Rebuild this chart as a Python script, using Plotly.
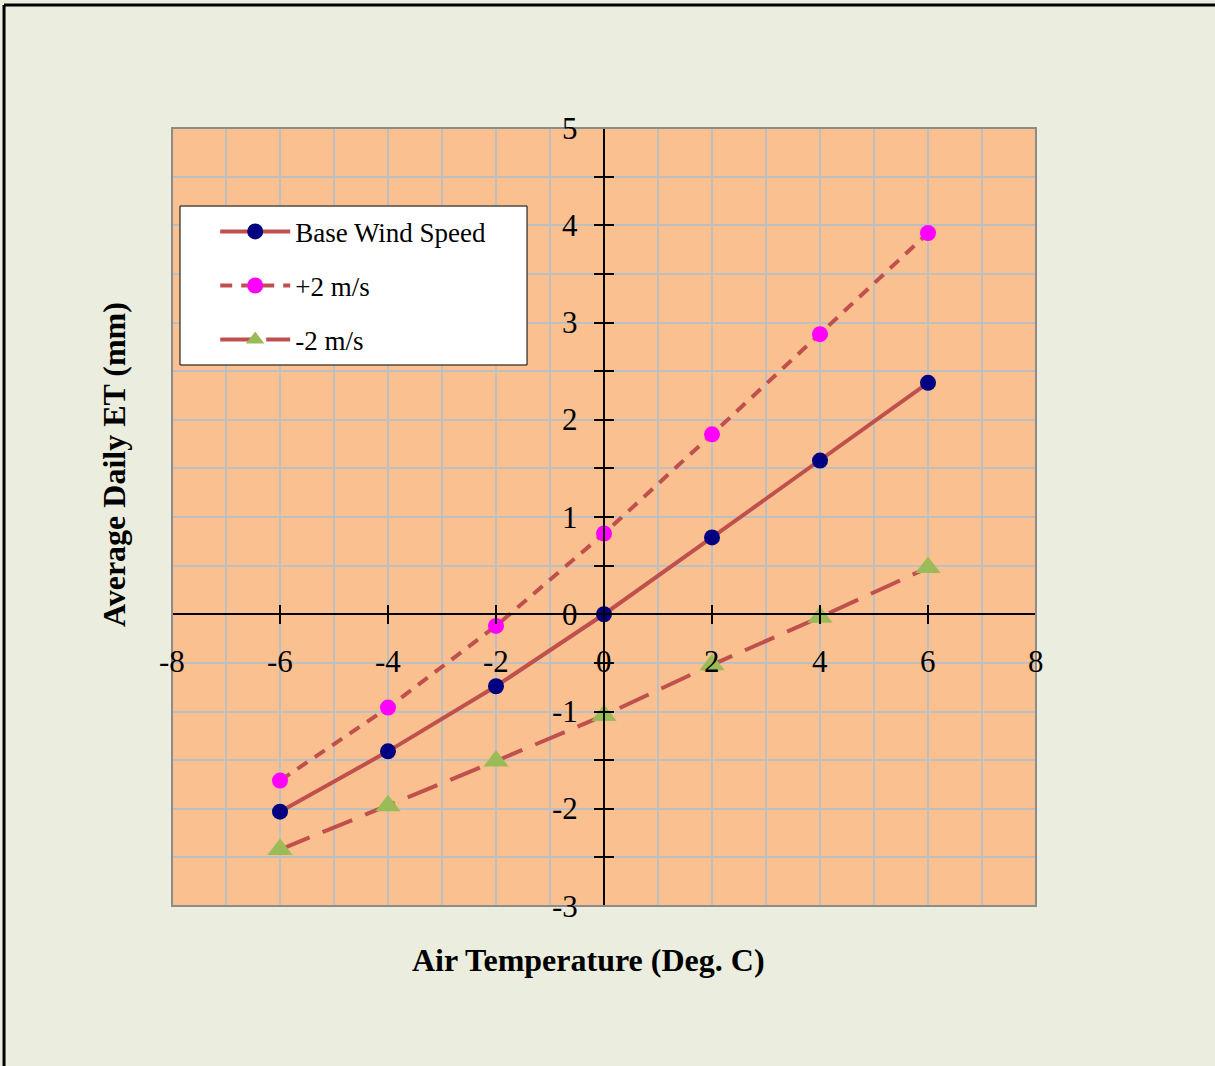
import plotly.graph_objects as go

# ---- data ----
temps = [-6, -4, -2, 0, 2, 4, 6]
et_base = [-2.03, -1.41, -0.74, 0.0, 0.79, 1.58, 2.38]
et_plus2 = [-1.71, -0.96, -0.12, 0.83, 1.85, 2.88, 3.92]
et_minus2 = [-2.42, -1.97, -1.51, -1.04, -0.52, -0.03, 0.48]
series_names = ["Base Wind Speed", "+2 m/s", "-2 m/s"]
x_tick_vals = [-8, -6, -4, -2, 0, 2, 4, 6, 8]
y_tick_vals = [-3, -2, -1, 0, 1, 2, 3, 4, 5]
x_title = "Air Temperature (Deg. C)"
y_title = "Average Daily ET (mm)"

FONT = "Liberation Serif, Times New Roman, serif"
LINE_C = "#C0504D"

fig = go.Figure()
fig.add_trace(go.Scatter(x=temps, y=et_base, name=series_names[0], mode="lines+markers",
                         line=dict(color=LINE_C, width=4),
                         marker=dict(color="#000080", size=16, symbol="circle"),
                         legendgroup="a"))
fig.add_trace(go.Scatter(x=temps, y=et_plus2, name=series_names[1], mode="lines+markers",
                         line=dict(color=LINE_C, width=4, dash="12px,9px"),
                         marker=dict(color="#FF00FF", size=16, symbol="circle"),
                         legendgroup="b"))
fig.add_trace(go.Scatter(x=temps, y=et_minus2, name=series_names[2], mode="lines+markers",
                         line=dict(color=LINE_C, width=4, dash="32px,14px"),
                         marker=dict(color="#9BBB59", size=22, symbol="triangle-up"),
                         legendgroup="c"))
# dummy trace to realise the overlay axes (inner half of crossing ticks)
fig.add_trace(go.Scatter(x=[None], y=[None], xaxis="x2", yaxis="y2", showlegend=False,
                         hoverinfo="skip"))

xr = [-8, 8]
yr = [-3, 5]
x_pos = (0 - yr[0]) / (yr[1] - yr[0])
y_pos = (0 - xr[0]) / (xr[1] - xr[0])

fig.update_layout(
    width=1215, height=1066,
    margin=dict(l=172, r=179, t=128, b=160),
    paper_bgcolor="#EBEEDE",
    plot_bgcolor="#FAC090",
    font=dict(family=FONT, size=26, color="black"),
    showlegend=True,
    legend=dict(x=0.050, y=0.898, xanchor="left", yanchor="top",
                bgcolor="rgba(0,0,0,0)", borderwidth=0,
                font=dict(family=FONT, size=27, color="black"),
                itemwidth=70, tracegroupgap=16, traceorder="grouped"),
    xaxis=dict(range=xr, dtick=2, tick0=-8, showgrid=True, gridcolor="#BFBFBF", gridwidth=2,
               minor=dict(dtick=1, showgrid=True, gridcolor="#BFBFBF", gridwidth=2),
               zeroline=False, showline=True, linecolor="black", linewidth=2,
               anchor="free", position=x_pos, ticks="outside", ticklen=9, tickwidth=2,
               tickcolor="black", showticklabels=False),
    yaxis=dict(range=yr, dtick=0.5, tick0=-3, showgrid=True, gridcolor="#BFBFBF", gridwidth=2,
               zeroline=False, showline=True, linecolor="black", linewidth=2,
               anchor="free", position=y_pos, ticks="outside", ticklen=9, tickwidth=2,
               tickcolor="black", showticklabels=False),
    xaxis2=dict(range=xr, dtick=2, tick0=-8, overlaying="x", anchor="free", position=x_pos,
                showgrid=False, zeroline=False, showline=False, ticks="inside", ticklen=9,
                tickwidth=2, tickcolor="black", showticklabels=False),
    yaxis2=dict(range=yr, dtick=0.5, tick0=-3, overlaying="y", anchor="free", position=y_pos,
                showgrid=False, zeroline=False, showline=False, ticks="inside", ticklen=9,
                tickwidth=2, tickcolor="black", showticklabels=False),
)

shapes = [
    # plot area border
    dict(type="rect", xref="paper", yref="paper", x0=0, x1=1, y0=0, y1=1,
         line=dict(color="#8C8C8C", width=2), layer="above"),
    # legend box
    dict(type="rect", xref="paper", yref="paper", x0=0.00926, x1=0.4109, y0=0.6954, y1=0.8997,
         line=dict(color="black", width=1), fillcolor="white", layer="above"),
    # outer chart border (left and top)
    dict(type="line", xref="paper", yref="paper", x0=-0.1944, x1=-0.1944, y0=-0.3, y1=1.158,
         line=dict(color="black", width=3)),
    dict(type="line", xref="paper", yref="paper", x0=-0.1944, x1=1.3, y0=1.158, y1=1.158,
         line=dict(color="black", width=3)),
]
fig.update_layout(shapes=shapes)

ann = []
for v in x_tick_vals:
    ann.append(dict(x=v, y=0, xref="x", yref="y", text=str(v), showarrow=False,
                    xanchor="center", yanchor="middle",
                    yshift=-47, font=dict(family=FONT, size=31, color="black")))
for v in y_tick_vals:
    ann.append(dict(x=0, y=v, xref="x", yref="y", text=str(v), showarrow=False,
                    xanchor="right", yanchor="middle",
                    xshift=-24, font=dict(family=FONT, size=31, color="black")))
ann.append(dict(x=0.4815, y=-0.0694, xref="paper", yref="paper", text="<b>" + x_title + "</b>",
                xanchor="center", yanchor="middle",
                showarrow=False, font=dict(family=FONT, size=32, color="black")))
ann.append(dict(x=-0.0671, y=0.5668, xref="paper", yref="paper", text="<b>" + y_title + "</b>",
                xanchor="center", yanchor="middle",
                showarrow=False, textangle=-90, font=dict(family=FONT, size=32, color="black")))
fig.update_layout(annotations=ann)

fig.write_html("out.html")
